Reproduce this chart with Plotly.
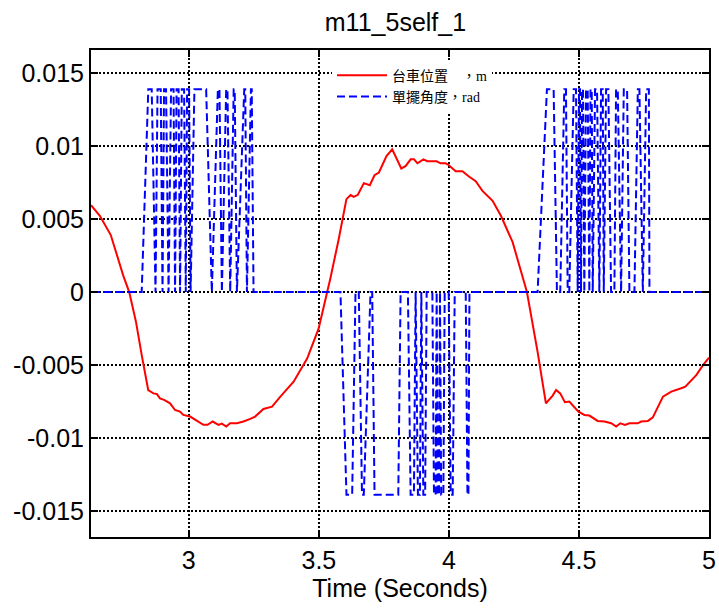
import plotly.graph_objects as go

# ---- data ----
cart_t = [2.624, 2.658, 2.700, 2.748, 2.771, 2.797, 2.819, 2.844, 2.864, 2.877, 2.889, 2.905,
          2.928, 2.947, 2.966, 2.979, 3.005, 3.031, 3.056, 3.072, 3.092, 3.114, 3.127, 3.144,
          3.159, 3.185, 3.210, 3.236, 3.255, 3.287, 3.320, 3.352, 3.403, 3.455, 3.499, 3.532,
          3.544, 3.5765, 3.606, 3.622, 3.634, 3.650, 3.673, 3.696, 3.714, 3.731, 3.760, 3.782,
          3.8015, 3.817, 3.834, 3.853, 3.866, 3.879, 3.902, 3.917, 3.953, 3.968, 3.988, 4.000,
          4.026, 4.052, 4.077, 4.103, 4.129, 4.168, 4.200, 4.245, 4.300, 4.341, 4.373, 4.399,
          4.412, 4.428, 4.446, 4.463, 4.498, 4.521, 4.540, 4.572, 4.598, 4.624, 4.643, 4.659,
          4.677, 4.694, 4.726, 4.739, 4.765, 4.784, 4.823, 4.855, 4.893, 4.909, 4.951, 4.977, 5.0]
cart_pos = [0.00596, 0.00523, 0.00391, 0.00113, 0.0, -0.00205, -0.00433, -0.00672, -0.00695,
            -0.00699, -0.00729, -0.0074, -0.00763, -0.00809, -0.0082, -0.00843, -0.00854,
            -0.00884, -0.00911, -0.00911, -0.00888, -0.00911, -0.00902, -0.00922, -0.009,
            -0.009, -0.00888, -0.0087, -0.00854, -0.00802, -0.00786, -0.00717, -0.00615,
            -0.00456, -0.00251, 0.0, 0.00091, 0.00364, 0.00637, 0.00665, 0.00653, 0.00667,
            0.00747, 0.00733, 0.00801, 0.0082, 0.00933, 0.00979, 0.0091, 0.00847, 0.00865,
            0.0091, 0.0091, 0.00883, 0.0091, 0.00897, 0.00897, 0.00883, 0.00883, 0.0087,
            0.00829, 0.00829, 0.00792, 0.0076, 0.00694, 0.00626, 0.00523, 0.00342, 0.0,
            -0.0041, -0.00763, -0.0071, -0.00672, -0.00695, -0.00756, -0.00751, -0.0082,
            -0.00843, -0.00847, -0.00884, -0.00888, -0.009, -0.00922, -0.009, -0.00911, -0.009,
            -0.009, -0.00888, -0.00884, -0.0086, -0.00717, -0.00683, -0.0066, -0.00649,
            -0.0057, -0.00501, -0.0045]

angle_t = [2.624,
           2.8189, 2.8443, 2.8574, 2.8721, 2.8798, 2.8921, 2.8990, 2.9048, 2.9125, 2.9222,
           2.9318, 2.9414, 2.9472, 2.9530, 2.9607, 2.9665, 2.9730, 2.9819, 2.9884, 2.9934,
           3.0012, 3.0069, 3.0216, 3.0667, 3.0886, 3.1118, 3.1179, 3.1272, 3.1437, 3.1487,
           3.1592, 3.1726, 3.1765, 3.1850, 3.2131, 3.2170, 3.2235, 3.2389, 3.2420, 3.2489,
           3.5830, 3.6062, 3.6281, 3.6409, 3.6536, 3.6659, 3.6728, 3.6987, 3.7052, 3.7141,
           3.8054, 3.8143, 3.8424, 3.8528, 3.8655, 3.8721, 3.8809, 3.8886, 3.8940, 3.9017,
           3.9087, 3.9145, 3.9364, 3.9426, 3.9491, 3.9530, 3.9568, 3.9619, 3.9657, 3.9703,
           3.9788, 3.9838, 3.9992, 4.0069, 4.0146, 4.0224, 4.0647, 4.0713, 4.0751, 4.0790,
           4.3410, 4.3769, 4.4027, 4.4154, 4.4281, 4.4436, 4.4501, 4.4567, 4.4628, 4.4798,
           4.4887, 4.4952, 4.5002, 4.5040, 4.5079, 4.5118, 4.5156, 4.5206, 4.5272, 4.5337,
           4.5399, 4.5445, 4.5491, 4.5530, 4.5619, 4.5696, 4.5784, 4.5850, 4.5915, 4.5954,
           4.6043, 4.6131, 4.6235, 4.6362, 4.6427, 4.6493, 4.6620, 4.6724, 4.6851, 4.6940,
           4.7133, 4.7264, 4.7325, 4.7456, 4.7584, 4.7688, 4.7711,
           5.0]
angle_v = [0.0,
           0.0, 0.0139, 0.0139, 0.0, 0.0139, 0.0139, 0.0, 0.0139, 0.0139, 0.0,
           0.0139, 0.0139, 0.0, 0.0139, 0.0139, 0.0, 0.0139, 0.0139, 0.0, 0.0139,
           0.0139, 0.0, 0.0139, 0.0139, 0.0, 0.0139, 0.0139, 0.0, 0.0139, 0.0139,
           0.0, 0.0139, 0.0139, 0.0, 0.0139, 0.0139, 0.0, 0.0139, 0.0139, 0.0,
           0.0, -0.0139, -0.0139, 0.0, 0.0, -0.0139, -0.0139, 0.0, 0.0, -0.0139,
           -0.0139, 0.0, 0.0, -0.0139, -0.0139, 0.0, -0.0139, -0.0139, 0.0, -0.0139,
           -0.0139, 0.0, 0.0, -0.0139, -0.0139, 0.0, -0.0139, -0.0139, 0.0, -0.0139,
           -0.0139, 0.0, 0.0, -0.0139, -0.0139, 0.0, 0.0, -0.0139, -0.0139, 0.0,
           0.0, 0.0139, 0.0139, 0.0, 0.0, 0.0139, 0.0139, 0.0, 0.0, 0.0139,
           0.0139, 0.0, 0.0139, 0.0139, 0.0, 0.0139, 0.0139, 0.0, 0.0139, 0.0139,
           0.0, 0.0139, 0.0139, 0.0, 0.0139, 0.0139, 0.0, 0.0139, 0.0139, 0.0,
           0.0139, 0.0139, 0.0, 0.0, 0.0139, 0.0139, 0.0, 0.0139, 0.0139, 0.0,
           0.0, 0.0139, 0.0139, 0.0, 0.0139, 0.0139, 0.0,
           0.0]

x_ticks = [3, 3.5, 4, 4.5, 5]
x_ticktext = ["3", "3.5", "4", "4.5", "5"]
y_ticks = [-0.015, -0.01, -0.005, 0, 0.005, 0.01, 0.015]
y_ticktext = ["-0.015", "-0.01", "-0.005", "0", "0.005", "0.01", "0.015"]

series_names = ["台車位置　，m", "單擺角度，rad"]

fig = go.Figure()
fig.add_trace(go.Scatter(x=cart_t, y=cart_pos, mode="lines", name=series_names[0],
                         line=dict(color="#ff0000", width=2)))
fig.add_trace(go.Scatter(x=angle_t, y=angle_v, mode="lines", name=series_names[1],
                         line=dict(color="#0000ff", width=2, dash="8px,4px")))

axis_common = dict(
    showline=True, linecolor="black", linewidth=2, mirror="allticks",
    ticks="inside", ticklen=7, tickwidth=1.5, tickcolor="black",
    showgrid=True, gridcolor="black", gridwidth=1.5, griddash="2px,2px",
    zeroline=False, automargin=False,
    tickfont=dict(family="Liberation Sans, Arial", size=25, color="black"),
)

fig.update_layout(
    width=719, height=609,
    margin=dict(l=91, r=10, t=50, b=72, autoexpand=False),
    paper_bgcolor="white", plot_bgcolor="white",
    title=dict(text="m11_5self_1", x=0.55, xanchor="center", y=0.963, yanchor="middle",
               font=dict(family="Liberation Sans, Arial", size=25, color="black")),
    xaxis=dict(range=[2.624, 5.0], tickvals=x_ticks, ticktext=x_ticktext,
               title=dict(text="Time (Seconds)", standoff=6,
                          font=dict(family="Liberation Sans, Arial", size=25, color="black")),
               **axis_common),
    yaxis=dict(range=[-0.0168, 0.0166], tickvals=y_ticks, ticktext=y_ticktext,
               **axis_common),
    legend=dict(x=0.39, y=0.98, xanchor="left", yanchor="top",
                bgcolor="white", borderwidth=0,
                font=dict(family="Liberation Serif, Noto Sans CJK TC", size=14, color="black"),
                tracegroupgap=0, itemwidth=50),
    showlegend=True,
)

fig.write_html("out.html")
